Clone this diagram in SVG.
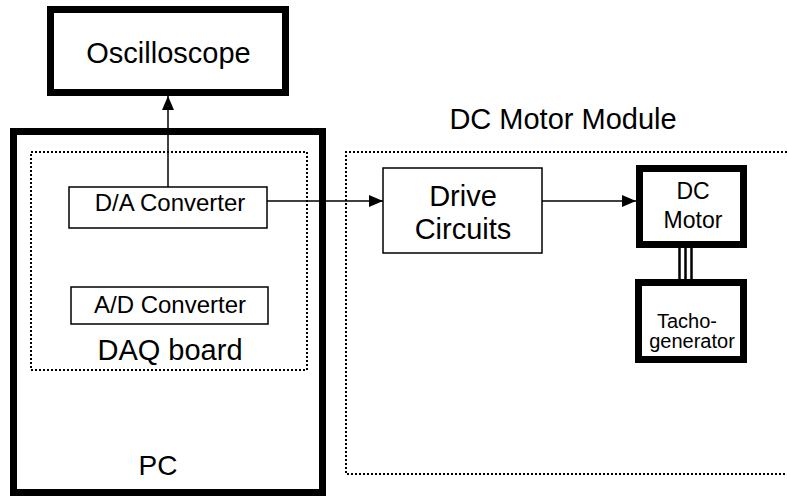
<svg xmlns="http://www.w3.org/2000/svg" width="787" height="497" viewBox="0 0 787 497">
<defs>
<style>
text{font-family:"Liberation Sans",Arial,sans-serif;fill:#000;text-anchor:middle}
.thick{fill:#fff;stroke:#000;stroke-width:7}
.thin{fill:#fff;stroke:#000;stroke-width:1.5}
.dot{fill:none;stroke:#000;stroke-width:2;stroke-dasharray:2 2}
.line{stroke:#000;stroke-width:1.5;fill:none}
</style>
<marker id="arr" markerWidth="14" markerHeight="12" refX="14" refY="6" orient="auto" markerUnits="userSpaceOnUse">
<path d="M0,0 L14,6 L0,12 Z" fill="#000"/>
</marker>
</defs>
<rect width="787" height="497" fill="#fff"/>
<g id="pc">
<rect class="thick" x="13.5" y="131.5" width="309" height="361"/>
<text x="158" y="475" font-size="28">PC</text>
</g>
<g id="daq">
<rect class="dot" x="31" y="152" width="276" height="218"/>
<text x="170" y="360" font-size="29">DAQ board</text>
</g>
<g id="module">
<path class="dot" d="M787,152 H346 V474 H787"/>
<text x="563" y="129" font-size="29">DC Motor Module</text>
</g>
<g id="oscilloscope">
<rect class="thick" x="50.5" y="9.5" width="235" height="83"/>
<text x="168.5" y="63" font-size="29">Oscilloscope</text>
</g>
<g id="da">
<rect class="thin" x="69" y="187" width="198" height="41"/>
<text x="170" y="211" font-size="24">D/A Converter</text>
</g>
<g id="ad">
<rect class="thin" x="71" y="287" width="197" height="37"/>
<text x="170" y="313" font-size="24">A/D Converter</text>
</g>
<g id="drive">
<rect class="thin" x="383" y="168" width="159" height="85"/>
<text x="463" y="206" font-size="29">Drive</text>
<text x="463" y="239" font-size="29">Circuits</text>
</g>
<g id="motor">
<rect class="thick" x="639.5" y="168.5" width="104" height="76"/>
<text x="693" y="199" font-size="23">DC</text>
<text x="693" y="228" font-size="23">Motor</text>
</g>
<g id="tacho">
<rect class="thick" x="638.5" y="282.5" width="105" height="77"/>
<text x="687" y="328" font-size="20">Tacho-</text>
<text x="692" y="348" font-size="20">generator</text>
</g>
<g id="connectors">
<line class="line" x1="168" y1="187" x2="168" y2="96" marker-end="url(#arr)"/>
<line class="line" x1="267" y1="201" x2="383" y2="201" marker-end="url(#arr)"/>
<line class="line" x1="542" y1="201" x2="636" y2="201" marker-end="url(#arr)"/>
<g stroke="#000" stroke-width="2.5">
<line x1="679.5" y1="248" x2="679.5" y2="279"/>
<line x1="685.5" y1="248" x2="685.5" y2="279"/>
<line x1="691.5" y1="248" x2="691.5" y2="279"/>
</g>
</g>
</svg>
